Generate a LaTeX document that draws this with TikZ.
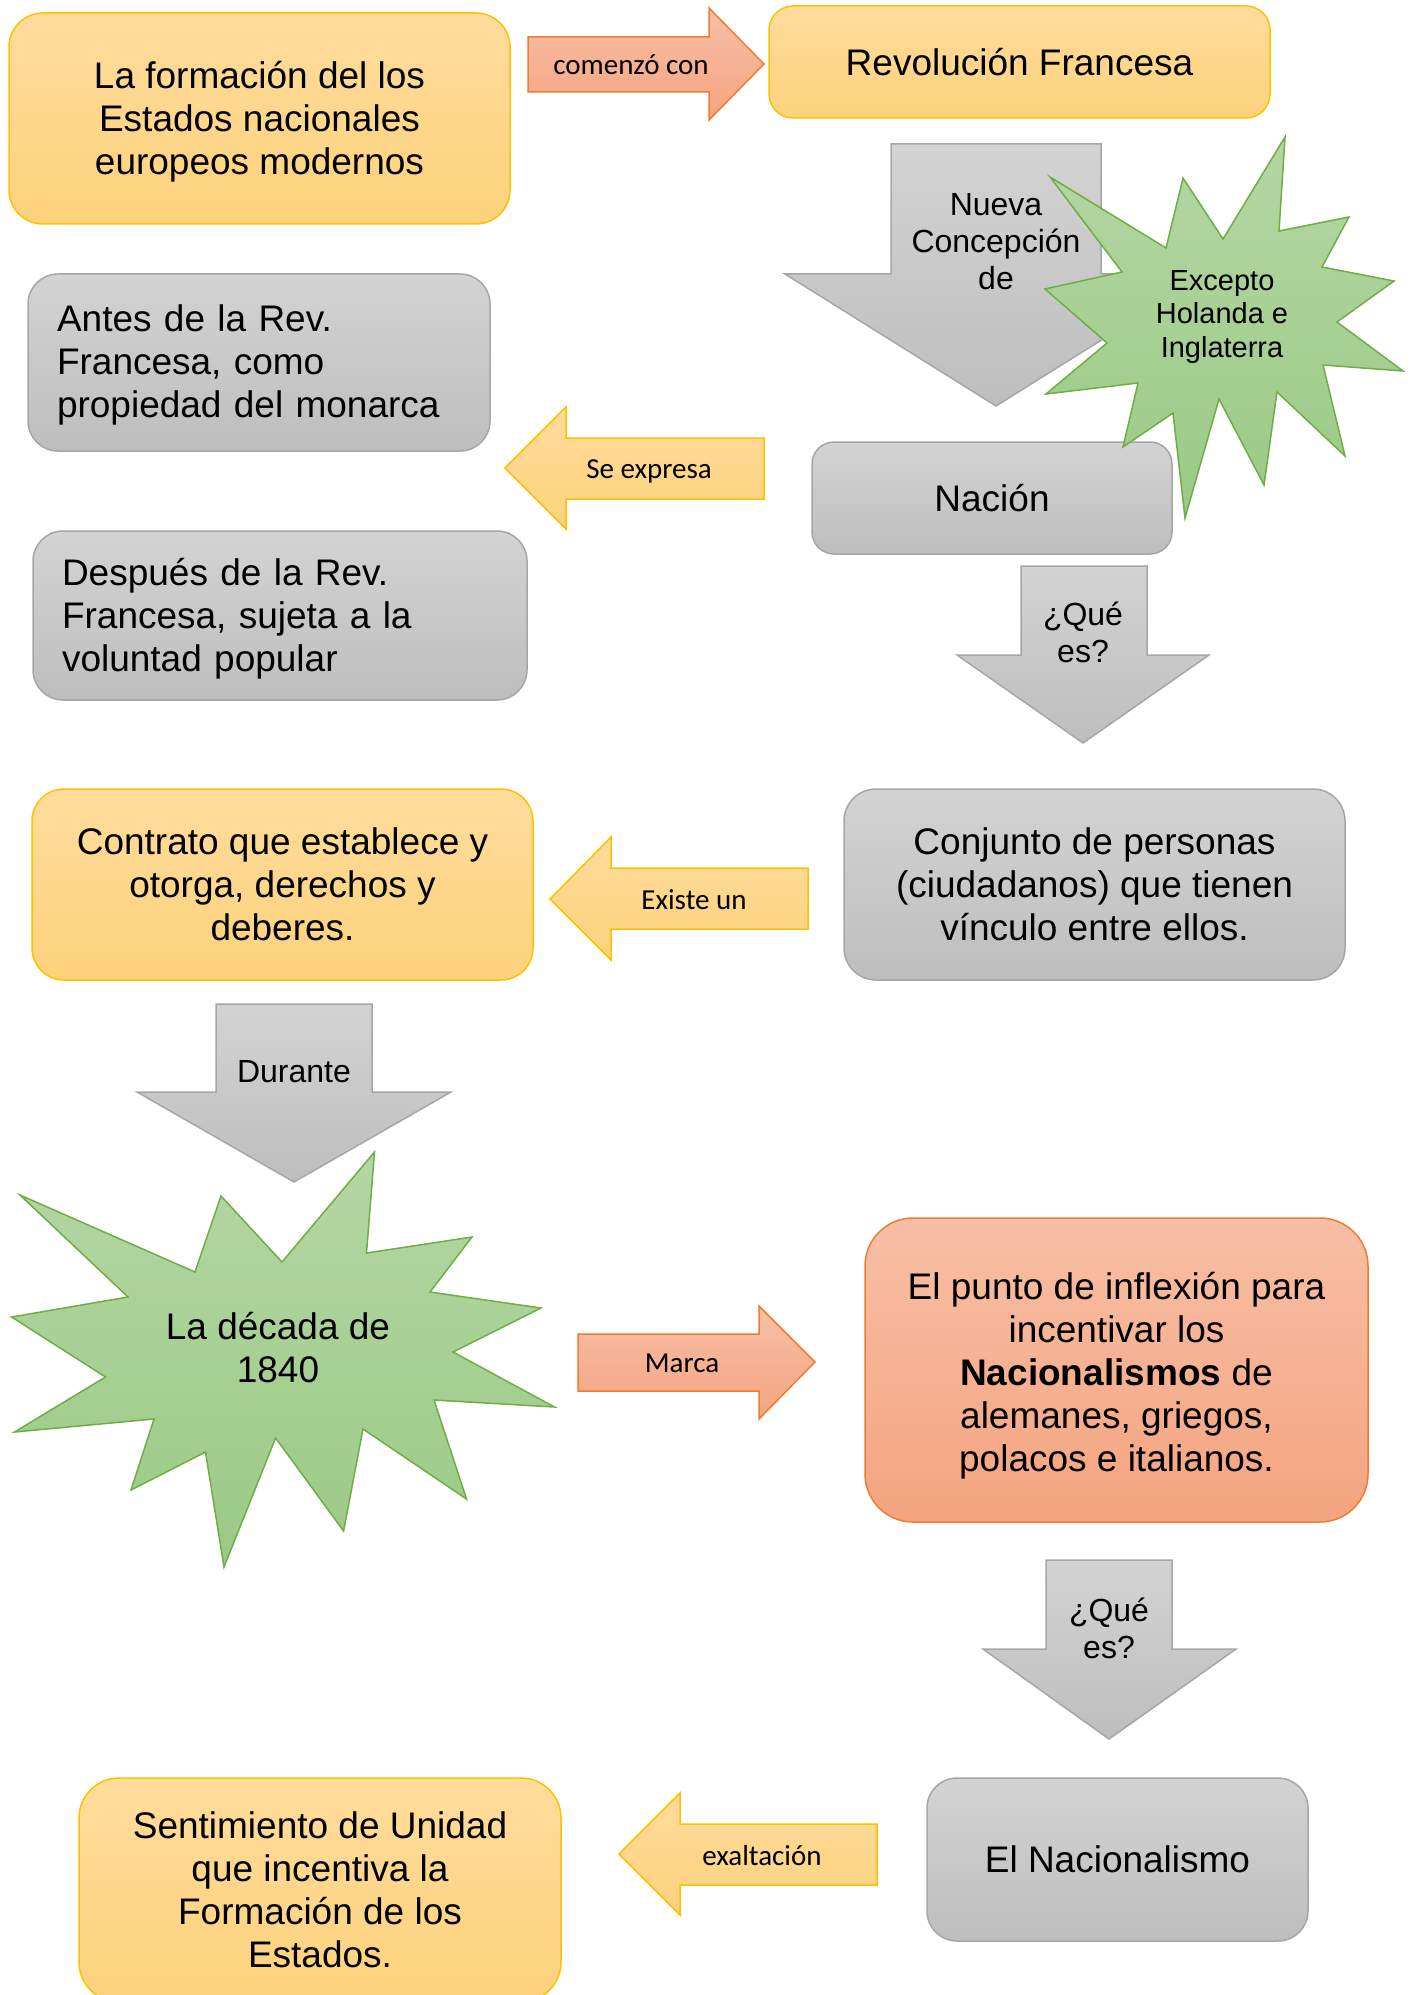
\documentclass[tikz,border=0pt]{standalone}
\usepackage{fontspec}
\setmainfont{Liberation Sans}
\newfontfamily\calibri{Carlito}
\usepackage{tikz}
\definecolor{oroA}{HTML}{FFDC9C}
\definecolor{oroC}{HTML}{FDD27C}
\definecolor{oroB}{HTML}{FFC000}
\definecolor{grisA}{HTML}{D3D3D3}
\definecolor{grisC}{HTML}{BEBEBE}
\definecolor{grisB}{HTML}{A6A6A6}
\definecolor{salA}{HTML}{F8BFA6}
\definecolor{salC}{HTML}{F4A47F}
\definecolor{salB}{HTML}{ED7D31}
\definecolor{verA}{HTML}{B4D6A4}
\definecolor{verC}{HTML}{9BCA85}
\definecolor{verB}{HTML}{70AD47}

\begin{document}
\begin{tikzpicture}[x=0.5pt,y=-0.5pt,line join=miter,
    caja/.style={rounded corners=15pt,line width=0.75pt,align=center,inner sep=0pt,font=\fontsize{18.5}{21.5}\selectfont},
    oro/.style={draw=oroB,top color=oroA,bottom color=oroC},
    gris/.style={draw=grisB,top color=grisA,bottom color=grisC},
    salmon/.style={draw=salB,top color=salA,bottom color=salC},
    verde/.style={draw=verB,top color=verA,bottom color=verC},
    flecha/.style={line width=0.75pt},
    etiq/.style={font=\calibri\fontsize{14.5}{17}\selectfont},
    medio/.style={align=center,font=\fontsize{16}{18.5}\selectfont}]
    \useasboundingbox (0,0) rectangle (1414,1995);
    \clip (0,0) rectangle (1414,1995);
    \node[caja,oro,minimum width=250.5pt,minimum height=105.5pt,rounded corners=17pt](formacion)at(259.5,118.5){\rule{0pt}{17pt}La formación del los\\Estados nacionales\\europeos modernos};
    \node[caja,oro,minimum width=250.5pt,minimum height=56pt,rounded corners=12pt](revolucion)at(1019.5,62){Revolución Francesa};
    \node[caja,gris,minimum width=231pt,minimum height=88.5pt,align=left,text width=202pt](antes)at(259,362.5){\rule{0pt}{16pt}Antes de la Rev.\\Francesa, como\\propiedad del monarca};
    \node[caja,gris,minimum width=180pt,minimum height=56pt,rounded corners=11pt](nacion)at(992,498){Nación};
    \node[caja,gris,minimum width=247pt,minimum height=84.5pt,align=left,text width=218pt](despues)at(280,615.5){\rule{0pt}{17pt}Después de la Rev.\\Francesa, sujeta a la\\voluntad popular};
    \node[caja,oro,minimum width=250.5pt,minimum height=95.5pt,rounded corners=16pt](contrato)at(282.5,884.5){Contrato que establece y\\otorga, derechos y\\deberes.};
    \node[caja,gris,minimum width=250.5pt,minimum height=95.5pt,rounded corners=16pt](conjunto)at(1094.5,884.5){Conjunto de personas\\(ciudadanos) que tienen\\vínculo entre ellos.};
    \node[caja,salmon,minimum width=251.5pt,minimum height=152pt,rounded corners=24pt](punto)at(1116.5,1370){\rule{0pt}{19.5pt}El punto de inflexión para\\incentivar los\\\textbf{Nacionalismos} de\\alemanes, griegos,\\polacos e italianos.};
    \node[caja,oro,minimum width=241pt,minimum height=112pt,rounded corners=20pt](sentimiento)at(320,1890){Sentimiento de Unidad\\que incentiva la\\Formación de los\\Estados.};
    \node[caja,gris,minimum width=190.5pt,minimum height=81.5pt,rounded corners=15pt](nacionalismo)at(1117.5,1859.5){El Nacionalismo};
    \foreach \xa/\xb/\ya/\yb/\xc/\xd/\xt/\yt in {891/1101/144/274/785/1207/996/406,1021/1147/566/655/957/1209/1083/743,216/372/1004/1092/137/451/294/1182,1046/1172/1560/1649/983/1236/1109/1739}{
        \draw[gris,flecha](\xa,\ya)--(\xb,\ya)--(\xb,\yb)--(\xd,\yb)--(\xt,\yt)--(\xc,\yb)--(\xa,\yb)--cycle;
    }
    \draw[salmon,flecha](528,37)--(709,37)--(709,8)--(764,64)--(709,120)--(709,92)--(528,92)--cycle;
    \draw[salmon,flecha](578,1334)--(759,1334)--(759,1306)--(815,1362)--(759,1419)--(759,1391)--(578,1391)--cycle;
    \foreach \xa/\xb/\ya/\yb/\yc/\yd/\xt/\yt in {566/764/438/499/407/529/505/468,611/808/868/929/837/960/550/899,680/877/1824/1885/1793/1915/619/1854}{
        \draw[oro,flecha](\xb,\ya)--(\xa,\ya)--(\xa,\yc)--(\xt,\yt)--(\xa,\yd)--(\xa,\yb)--(\xb,\yb)--cycle;
    }
    \node[etiq](comenzo)at(631,65){comenzó con};
    \node[etiq](expresa)at(649,471){Se expresa};
    \node[etiq](existe)at(694,900){Existe un};
    \node[etiq](marca)at(682,1363){Marca};
    \node[etiq](exaltacion)at(762,1856){exaltación};
    \node[medio](nueva)at(996,242){Nueva\\Concepción\\de};
    \node[medio](que)at(1083,632){¿Qué\\es?};
    \node[medio](durante)at(294,1072){Durante};
    \node[medio](queotra)at(1109,1628){¿Qué\\es?};
    \draw[verde,flecha](1285,137)--(1279,231)--(1349,217)--(1322,267)--(1394,281)--(1337,322)--(1403,371)--(1323,365)--(1345,456)--(1277,392)--(1264,485)--(1219,399)--(1185,518)--(1173,413)--(1123,447)--(1138,383)--(1046,394)--(1107,343)--(1045,289)--(1122,272)--(1050,177)--(1166,248)--(1183,178)--(1223,239)--cycle;
    \node[align=center,font=\fontsize{14.5}{16.8}\selectfont](excepto)at(1222,317){Excepto\\Holanda e\\Inglaterra};
    \draw[verde,flecha](374.5,1152)--(366.5,1253)--(472,1237)--(430,1292)--(541,1308)--(453,1352)--(554.5,1407)--(434,1400)--(466.5,1499)--(363,1429)--(343.6,1531)--(275.6,1438)--(224,1567)--(205.5,1452)--(131,1490)--(154,1419)--(14.5,1432)--(105.5,1377)--(11.6,1317)--(128,1297)--(20,1195)--(195,1272)--(221,1196)--(282,1262)--cycle;
    \node[align=center,font=\fontsize{18.5}{21.5}\selectfont](decada)at(278,1347.5){La década de\\1840};
\end{tikzpicture}
\end{document}
